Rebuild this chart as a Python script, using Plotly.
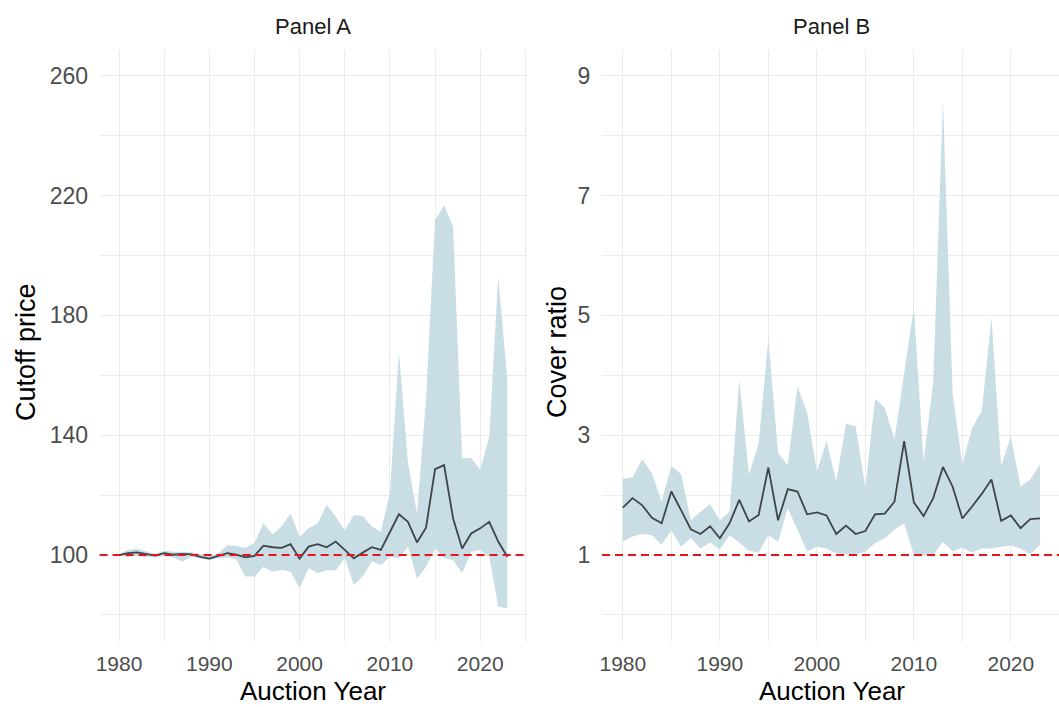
import plotly.graph_objects as go

years = list(range(1980, 2024))

# Panel A: cutoff price
price_mean = [100.0, 100.6, 100.9, 100.3, 99.8, 100.6, 100.1, 100.4, 100.2, 99.4,
              98.8, 99.7, 100.6, 100.1, 99.2, 99.7, 103.1, 102.6, 102.4, 103.6,
              98.8, 102.8, 103.6, 102.6, 104.5, 101.7, 98.9, 100.8, 102.6, 101.7,
              107.8, 113.6, 111.1, 104.2, 109.1, 128.7, 130.0, 112.2, 102.2, 107.2,
              108.9, 111.1, 104.5, 99.4]
price_upper = [100.3, 101.7, 102.1, 101.1, 100.3, 101.4, 101.1, 101.1, 100.9, 100.3,
               99.7, 100.6, 103.3, 103.0, 102.4, 103.9, 110.6, 106.9, 109.5, 113.9,
               106.1, 108.9, 110.6, 116.7, 112.8, 108.3, 113.4, 113.0, 109.5, 107.8,
               120.6, 167.9, 130.6, 113.9, 152.0, 211.8, 216.8, 209.6, 132.3, 132.5,
               128.4, 139.5, 192.9, 158.4]
price_lower = [99.7, 99.4, 99.7, 99.4, 99.2, 99.7, 99.2, 97.8, 99.4, 98.9,
               98.3, 98.9, 99.2, 98.5, 92.8, 92.8, 96.1, 94.4, 95.0, 94.4,
               88.9, 95.6, 93.9, 95.0, 94.8, 98.9, 90.0, 92.8, 97.8, 96.7,
               99.4, 98.9, 102.8, 92.2, 96.1, 102.2, 98.9, 98.3, 93.9, 101.1,
               101.7, 99.4, 82.7, 82.2]

# Panel B: cover ratio
cover_mean = [1.79, 1.95, 1.83, 1.62, 1.53, 2.06, 1.75, 1.43, 1.35, 1.48,
              1.28, 1.53, 1.92, 1.56, 1.67, 2.46, 1.58, 2.10, 2.06, 1.68,
              1.71, 1.66, 1.35, 1.49, 1.35, 1.40, 1.68, 1.69, 1.89, 2.90,
              1.88, 1.65, 1.95, 2.47, 2.14, 1.61, 1.81, 2.02, 2.26, 1.57,
              1.66, 1.45, 1.60, 1.61]
cover_upper = [2.27, 2.30, 2.60, 2.36, 1.89, 2.49, 2.35, 1.58, 1.72, 1.85,
               1.58, 1.72, 3.93, 2.34, 2.86, 4.60, 2.70, 2.50, 3.81, 3.37,
               2.40, 2.90, 2.23, 3.19, 3.15, 2.12, 3.61, 3.46, 2.93, 4.01,
               5.13, 2.56, 3.90, 8.59, 3.68, 2.51, 3.12, 3.40, 4.96, 2.48,
               2.98, 2.14, 2.26, 2.51]
cover_lower = [1.22, 1.31, 1.35, 1.33, 1.17, 1.41, 1.14, 1.29, 1.11, 1.21,
               1.09, 1.33, 1.21, 1.07, 1.04, 1.33, 1.22, 1.78, 1.42, 1.06,
               1.14, 1.11, 1.03, 1.01, 1.00, 1.06, 1.20, 1.28, 1.42, 1.53,
               1.00, 1.00, 1.01, 1.22, 1.06, 1.12, 1.04, 1.11, 1.11, 1.14,
               1.16, 1.11, 1.01, 1.17]

price_ref = 100
cover_ref = 1
price_ticks = [100, 140, 180, 220, 260]
cover_ticks = [1, 3, 5, 7, 9]
year_ticks = [1980, 1990, 2000, 2010, 2020]

panel_titles = ["Panel A", "Panel B"]
y_titles = ["Cutoff price", "Cover ratio"]
x_title = "Auction Year"

FONT = "Liberation Sans, Arial, sans-serif"
RIBBON = "rgb(201,221,229)"
LINE = "#3d4549"
GRID = "#ebebeb"

W, H = 1059, 707
fig = go.Figure()

panels = [
    ("x", "y", price_lower, price_upper, price_mean, price_ref),
    ("x2", "y2", cover_lower, cover_upper, cover_mean, cover_ref),
]
for xa, ya, lo, up, mn, ref in panels:
    fig.add_trace(go.Scatter(x=years, y=lo, mode="lines", line=dict(width=0, color=RIBBON),
                             xaxis=xa, yaxis=ya, showlegend=False, hoverinfo="skip"))
    fig.add_trace(go.Scatter(x=years, y=up, mode="lines", line=dict(width=0, color=RIBBON),
                             fill="tonexty", fillcolor=RIBBON,
                             xaxis=xa, yaxis=ya, showlegend=False, hoverinfo="skip"))
    fig.add_trace(go.Scatter(x=years, y=mn, mode="lines", line=dict(width=1.8, color=LINE),
                             xaxis=xa, yaxis=ya, showlegend=False))
    fig.add_shape(type="line", xref=f"{xa} domain", x0=0, x1=1, yref=ya, y0=ref, y1=ref,
                  line=dict(color="#e8141c", width=2.2, dash="8px,5px"), layer="above")

# pixel-based domains
xA = [99.6 / W, 526.7 / W]
xB = [602 / W, 1.0]
ydom = [1 - 642 / H, 1 - 50 / H]

ytickfont = dict(family=FONT, size=23, color="#4d4d4d")
xtickfont = dict(family=FONT, size=21, color="#4d4d4d")

def xaxis_cfg(domain, rng, anchor):
    return dict(domain=domain, range=rng, anchor=anchor, tickvals=year_ticks,
                showgrid=True, gridcolor=GRID, gridwidth=1.1, zeroline=False,
                ticks="outside", ticklen=3, tickcolor="rgba(0,0,0,0)",
                tickfont=xtickfont, automargin=False, showline=False,
                minor=dict(tick0=1975, dtick=5, showgrid=True, gridcolor=GRID, gridwidth=1.0))

def yaxis_cfg(rng, ticks, minor_dtick, minor_tick0, anchor):
    return dict(domain=ydom, range=rng, anchor=anchor, tickvals=ticks,
                showgrid=True, gridcolor=GRID, gridwidth=1.1, zeroline=False,
                ticks="outside", ticklen=6, tickcolor="rgba(0,0,0,0)",
                tickfont=ytickfont, automargin=False, showline=False,
                minor=dict(tick0=minor_tick0, dtick=minor_dtick, showgrid=True,
                           gridcolor=GRID, gridwidth=1.0))

fig.update_layout(
    width=W, height=H,
    margin=dict(l=0, r=0, t=0, b=0),
    paper_bgcolor="white", plot_bgcolor="white",
    xaxis=xaxis_cfg(xA, [1977.85, 2025.15], "y"),
    xaxis2=xaxis_cfg(xB, [1977.85, 1977.85 + 457 / 9.7], "y2"),
    yaxis=yaxis_cfg([70.96, 268.6], price_ticks, 20, 80, "x"),
    yaxis2=yaxis_cfg([-0.452, 9.43], cover_ticks, 1, 0, "x2"),
    showlegend=False,
)

centers = [(xA[0] + xA[1]) / 2, (602 / W + 1061 / W) / 2]
for i, cx in enumerate(centers):
    fig.add_annotation(text=panel_titles[i], x=cx, y=1 - 27 / H, xref="paper", yref="paper",
                       showarrow=False, font=dict(family=FONT, size=22, color="#1a1a1a"),
                       xanchor="center", yanchor="middle")
    fig.add_annotation(text=x_title, x=cx, y=1 - 691 / H, xref="paper", yref="paper",
                       showarrow=False, font=dict(family=FONT, size=26, color="black"),
                       xanchor="center", yanchor="middle")

for txt, px in zip(y_titles, [26, 557]):
    fig.add_annotation(text=txt, x=px / W, y=1 - 352 / H, xref="paper", yref="paper",
                       showarrow=False, textangle=-90,
                       font=dict(family=FONT, size=27, color="black"),
                       xanchor="center", yanchor="middle")

fig.write_html("out.html", config={"displayModeBar": False},
               post_script="document.body.style.margin='0';document.body.style.overflow='hidden';")
